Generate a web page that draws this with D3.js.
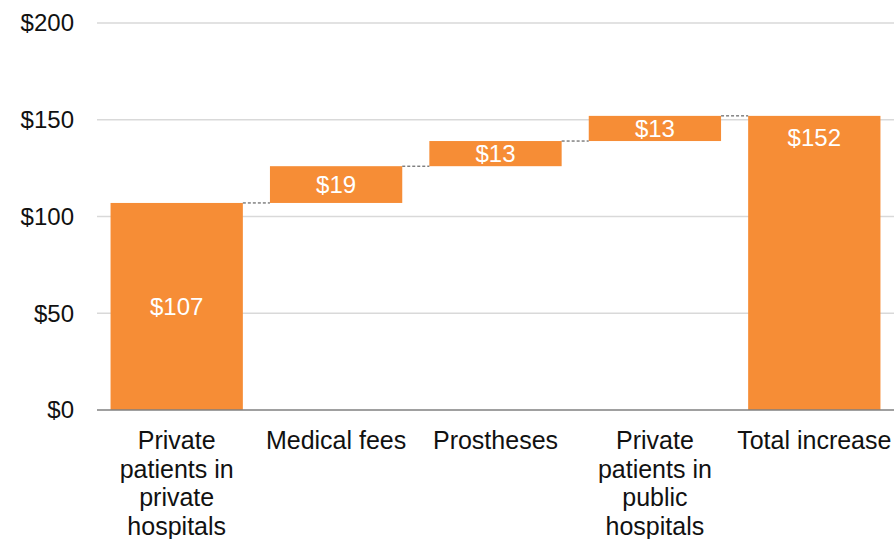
<!DOCTYPE html>
<html><head><meta charset="utf-8">
<script src="https://cdn.jsdelivr.net/npm/d3@7"></script>
<style>body{margin:0;background:#fff}svg{display:block;font-family:"Liberation Sans",Arial,sans-serif}</style>
</head><body><svg id="c" width="894" height="539"></svg>
<script>
const categories = [["Private","patients in","private","hospitals"],["Medical fees"],["Prostheses"],["Private","patients in","public","hospitals"],["Total increase"]];
const values = [107, 19, 13, 13, 152];
const isTotal = [false, false, false, false, true];
const yTicks = [0, 50, 100, 150, 200];

const svg = d3.select("#c");
const x = d3.scaleBand().domain(d3.range(values.length)).range([97, 894]).paddingInner(0.17).paddingOuter(0.085);
const y = d3.scaleLinear().domain([0, 200]).range([410, 23]);
const orange = "#F68D36";
const fs = 24;

let cum = 0;
const bars = values.map((v, i) => {
  let y0, y1;
  if (isTotal[i] || i === 0) { y0 = 0; y1 = v; cum = v; }
  else { y0 = cum; y1 = cum + v; cum = y1; }
  return {i, v, y0, y1};
});

svg.append("g").selectAll("line").data(yTicks.filter(d => d > 0)).join("line")
  .attr("x1", 97).attr("x2", 894).attr("y1", d => y(d)).attr("y2", d => y(d))
  .attr("stroke", "#d9d9d9").attr("stroke-width", 1.3);

svg.append("g").selectAll("text").data(yTicks).join("text")
  .attr("x", 74).attr("y", d => y(d)).attr("dy", "0.35em").attr("text-anchor", "end")
  .attr("font-size", fs).attr("fill", "#111").text(d => "$" + d);

svg.append("g").selectAll("rect").data(bars).join("rect")
  .attr("x", d => x(d.i)).attr("width", x.bandwidth())
  .attr("y", d => y(d.y1)).attr("height", d => y(d.y0) - y(d.y1))
  .attr("fill", orange);

svg.append("g").selectAll("line").data(bars.slice(0, -1)).join("line")
  .attr("x1", d => x(d.i) + x.bandwidth()).attr("x2", d => x(d.i + 1))
  .attr("y1", d => y(d.y1)).attr("y2", d => y(d.y1))
  .attr("stroke", "#444").attr("stroke-width", 1).attr("stroke-dasharray", "3,2");

svg.append("line").attr("x1", 97).attr("x2", 894).attr("y1", y(0)).attr("y2", y(0))
  .attr("stroke", "#808080").attr("stroke-width", 1.5);

svg.append("g").selectAll("text").data(bars).join("text")
  .attr("x", d => x(d.i) + x.bandwidth() / 2)
  .attr("y", d => isTotal[d.i] ? y(d.y1) + 22 : (y(d.y0) + y(d.y1)) / 2)
  .attr("dy", "0.35em").attr("text-anchor", "middle")
  .attr("font-size", fs).attr("fill", "#fff").text(d => "$" + d.v);

const cg = svg.append("g").selectAll("text").data(categories).join("text")
  .attr("x", (d, i) => x(i) + x.bandwidth() / 2).attr("y", 449)
  .attr("text-anchor", "middle").attr("font-size", 25).attr("fill", "#111");
cg.selectAll("tspan").data(d => d).join("tspan")
  .attr("x", function() { return d3.select(this.parentNode).attr("x"); })
  .attr("dy", (d, j) => j === 0 ? 0 : 28.5).text(d => d);
</script></body></html>
